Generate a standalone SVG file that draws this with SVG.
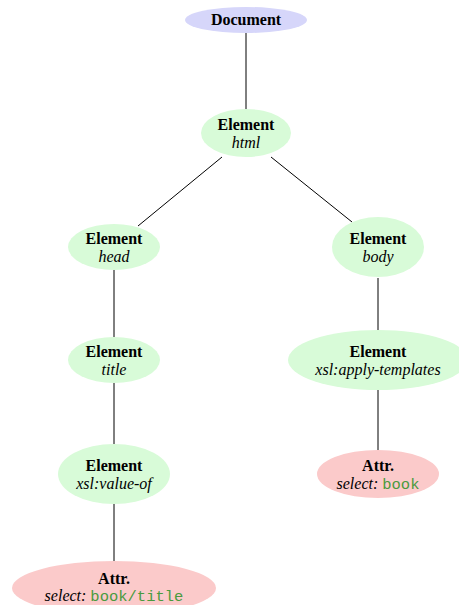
<svg xmlns="http://www.w3.org/2000/svg" width="459" height="605" viewBox="0 0 459 605">
  <style>
    .doc { fill: #d6d6fa; }
    .elem { fill: #d8fbd8; }
    .attr { fill: #fbcaca; }
    .edge { stroke: #000; stroke-width: 1; fill: none; }
    text { font-family: "Liberation Serif", "Times New Roman", serif; font-size: 16px; fill: #000; text-anchor: middle; }
    .b { font-weight: bold; }
    .i { font-style: italic; }
    .code { font-family: "Liberation Mono", "Courier New", monospace; font-style: normal; fill: #4a9a3e; font-size: 15.5px; }
  </style>
  <rect width="459" height="605" fill="#fff"/>

  <g id="connectors">
    <line class="edge" x1="246" y1="33" x2="246" y2="109"/>
    <line class="edge" x1="222" y1="157" x2="138" y2="226"/>
    <line class="edge" x1="271" y1="157" x2="352" y2="222"/>
    <line class="edge" x1="114" y1="270" x2="114" y2="337"/>
    <line class="edge" x1="114" y1="383" x2="114" y2="444"/>
    <line class="edge" x1="114" y1="504" x2="114" y2="561"/>
    <line class="edge" x1="378" y1="278" x2="378" y2="330"/>
    <line class="edge" x1="378" y1="390" x2="378" y2="450"/>
  </g>

  <g id="document">
    <ellipse class="doc" cx="246" cy="20" rx="61" ry="13"/>
    <text class="b" x="246" y="25">Document</text>
  </g>

  <g id="element-html">
    <ellipse class="elem" cx="246" cy="133" rx="45" ry="24"/>
    <text class="b" x="246" y="130">Element</text>
    <text class="i" x="246" y="148">html</text>
  </g>

  <g id="element-head">
    <ellipse class="elem" cx="114" cy="247" rx="46" ry="23"/>
    <text class="b" x="114" y="244">Element</text>
    <text class="i" x="114" y="262">head</text>
  </g>

  <g id="element-body">
    <ellipse class="elem" cx="378" cy="247" rx="46" ry="30"/>
    <text class="b" x="378" y="244">Element</text>
    <text class="i" x="378" y="262">body</text>
  </g>

  <g id="element-title">
    <ellipse class="elem" cx="114" cy="360" rx="46" ry="23"/>
    <text class="b" x="114" y="357">Element</text>
    <text class="i" x="114" y="375">title</text>
  </g>

  <g id="element-apply-templates">
    <ellipse class="elem" cx="378" cy="360" rx="90" ry="30"/>
    <text class="b" x="378" y="357">Element</text>
    <text class="i" x="378" y="375">xsl:apply-templates</text>
  </g>

  <g id="element-value-of">
    <ellipse class="elem" cx="114" cy="474" rx="56" ry="30"/>
    <text class="b" x="114" y="471">Element</text>
    <text class="i" x="114" y="489">xsl:value-of</text>
  </g>

  <g id="attr-book">
    <ellipse class="attr" cx="378" cy="474" rx="61" ry="24"/>
    <text class="b" x="378" y="471">Attr.</text>
    <text class="i" x="378" y="489">select: <tspan class="code">book</tspan></text>
  </g>

  <g id="attr-book-title">
    <ellipse class="attr" cx="114" cy="588" rx="102" ry="27"/>
    <text class="b" x="114" y="584">Attr.</text>
    <text class="i" x="114" y="601">select: <tspan class="code">book/title</tspan></text>
  </g>
</svg>
